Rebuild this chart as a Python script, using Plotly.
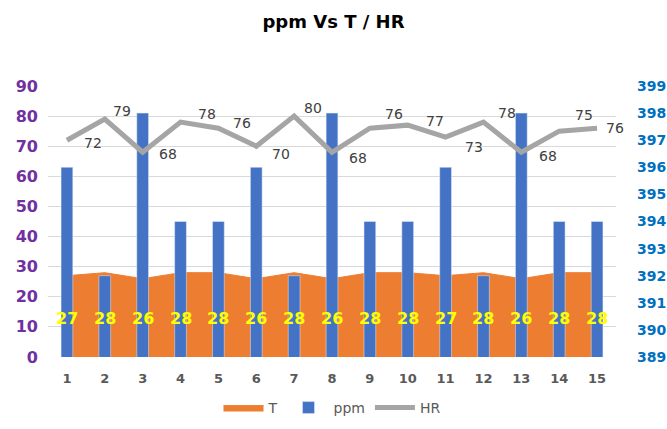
import plotly.graph_objects as go

days = list(range(1, 16))
T = [27, 28, 26, 28, 28, 26, 28, 26, 28, 28, 27, 28, 26, 28, 28]
ppm = [396, 392, 398, 394, 394, 396, 392, 398, 394, 394, 396, 392, 398, 394, 394]
HR = [72, 79, 68, 78, 76, 70, 80, 68, 76, 77, 73, 78, 68, 75, 76]
left_ticks = list(range(0, 91, 10))
right_ticks = list(range(389, 400))

# label offsets (pixels) for HR labels
hr_dx = [26, 17, 25, 26, 24, 25, 19, 26, 24, 27, 28, 24, 27, 25, 18]
hr_dy = [3, -8, 2, -8, -5, 8, -8, 6, -14, -4, 10, -9, 4, -16, 0]

FONT = "DejaVu Sans"

fig = go.Figure()
fig.add_trace(go.Scatter(x=days, y=T, name="T", mode="lines", fill="tozeroy",
                         line=dict(color="#ED7D31", width=1), fillcolor="#ED7D31",
                         yaxis="y"))
fig.add_trace(go.Bar(x=days, y=ppm, name="ppm", marker_color="#4472C4",
                     width=0.31, yaxis="y2"))
fig.add_trace(go.Scatter(x=days, y=HR, name="HR", mode="lines",
                         line=dict(color="#A5A5A5", width=5), yaxis="y3"))

ann = []
for i, d in enumerate(days):
    ann.append(dict(x=d, y=0, xref="x", yref="y", text=f"<b>{T[i]}</b>", showarrow=False,
                    yanchor="middle", yshift=39,
                    font=dict(family=FONT, size=16, color="#FFFF00")))
    ann.append(dict(x=d, y=HR[i], xref="x", yref="y", text=f"{HR[i]}", showarrow=False,
                    xshift=hr_dx[i], yshift=-hr_dy[i],
                    font=dict(family=FONT, size=14, color="#404040")))

fig.update_layout(
    width=667, height=429,
    margin=dict(l=48, r=51, t=86, b=72, autoexpand=False),
    paper_bgcolor="white", plot_bgcolor="white",
    title=dict(text="<b>ppm Vs T / HR</b>", x=0.5, xanchor="center", y=1 - 22 / 429,
               yanchor="middle", font=dict(family=FONT, size=18, color="#000000")),
    barmode="overlay",
    xaxis=dict(range=[0.5, 15.5], tickmode="array", tickvals=days,
               ticktext=[f"<b>{d}</b>" for d in days], showgrid=False,
               tickfont=dict(family=FONT, size=13, color="#595959"), ticks="",
               zeroline=False, ticklabelstandoff=12),
    yaxis=dict(range=[0, 90], tickmode="array", tickvals=left_ticks,
               ticktext=[f"<b>{v}</b>" for v in left_ticks],
               gridcolor="#D9D9D9", gridwidth=1, zeroline=False,
               tickfont=dict(family=FONT, size=16, color="#7030A0"), ticklabelstandoff=9),
    yaxis2=dict(range=[389, 399], overlaying="y", side="right", tickmode="array",
                tickvals=right_ticks, ticktext=[f"<b>{v}</b>" for v in right_ticks],
                showgrid=False, zeroline=False,
                tickfont=dict(family=FONT, size=14, color="#0070C0"), ticklabelstandoff=20),
    yaxis3=dict(range=[0, 90], overlaying="y", visible=False),
    legend=dict(orientation="h", x=0.5, xanchor="center", yref="container",
                y=1 - 408 / 429, yanchor="middle",
                font=dict(family=FONT, size=14, color="#595959"),
                traceorder="normal", itemwidth=40),
    annotations=ann,
    showlegend=True,
)

fig.write_html("out.html", config={"displayModeBar": False},
               post_script="document.body.style.margin='0';document.body.style.overflow='hidden';")
